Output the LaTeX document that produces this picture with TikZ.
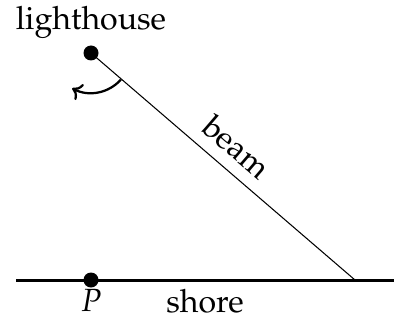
\documentclass[tikz,border=0pt]{standalone}
\usepackage[T1]{fontenc}
\usepackage{mathpazo}
\usetikzlibrary{arrows.meta}
\begin{document}
\begin{tikzpicture}[x=0.3333pt,y=-0.3333pt,
  dot/.style={circle,fill=black,inner sep=0pt,minimum size=5pt},
  lbl/.style={inner sep=0pt,font=\fontsize{10.7}{12}\selectfont}]
\useasboundingbox (0,0) rectangle (396,322);
\node[dot] (L) at (91,53) {};
\node[dot] (P) at (91,280) {};
\coordinate (SL) at (16,280);
\coordinate (SR) at (394,280);
\coordinate (H) at (355,280);
\node[lbl] (lt) at (91,22) {lighthouse};
\node[lbl] (pl) at (91,300) {$P$};
\node[lbl] (sh) at (205,301) {shore};
\draw[line width=1pt] (SL) -- (SR);
\draw[line width=0.35pt] (L.center) -- (H);
\node[lbl,rotate=-40.7] (bm) at (237,147) {beam};
\draw[line width=0.75pt,-{To[length=3pt,width=6pt]}] (L.center) ++(41.7:40) arc[start angle=41.7,end angle=118,radius=40];
\end{tikzpicture}
\end{document}
